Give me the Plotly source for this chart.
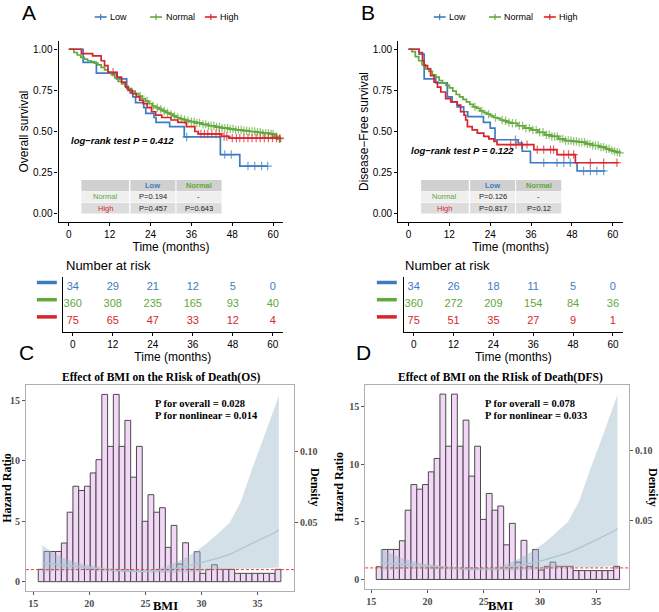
import plotly.graph_objects as go

W, H = 659, 612
SANS = "Liberation Sans"
SERIF = "Liberation Serif"
BLUE, GREEN, RED = "#3C7CC3", "#62A83B", "#D8252B"
GROUPS = ["Low", "Normal", "High"]
COLORS = [BLUE, GREEN, RED]

def dom_x(a, b):
    return [a / W, b / W]

def dom_y(top, bottom):
    return [1 - bottom / H, 1 - top / H]

def fx(p):
    return p / W

def fy(p):
    return 1 - p / H

# ---------------- Panel A: overall survival (KM) ----------------
a_low_t = [0, 4.2, 8.1, 14.0, 17.0, 18.0, 18.8, 19.6, 22.0, 22.6, 25.0, 25.6, 29.6, 33.9, 44.5, 50.2]
a_low_s = [1.0, 0.92, 0.855, 0.82, 0.76, 0.735, 0.71, 0.675, 0.645, 0.61, 0.585, 0.555, 0.53, 0.467, 0.36, 0.29]
a_low_cens = [34.6, 45.8, 47.7, 52.6, 54.6, 56.6, 58.4]
a_low_end = 58.4

a_norm_t = [0, 1.5, 2.5, 3.5, 4.5, 5.5, 6.5, 7.5, 8.5, 9.5, 10.5, 11.5, 12.5, 13.5, 14.5, 15.5, 16.5,
            17.5, 18.5, 19.5, 20.5, 21.5, 22.5, 23.5, 24.5, 25.5, 26.5, 27.5, 28.5, 29.5, 30.5, 31.5,
            32.5, 33.5, 34.5, 35.5, 37, 39, 41, 43, 45, 47, 49, 51, 53, 55, 57, 59, 60.5, 61.3, 62]
a_norm_s = [1.0, 0.98, 0.965, 0.95, 0.94, 0.93, 0.925, 0.915, 0.905, 0.89, 0.875, 0.86, 0.845, 0.825,
            0.805, 0.79, 0.775, 0.76, 0.745, 0.73, 0.715, 0.70, 0.685, 0.67, 0.655, 0.645, 0.635, 0.625,
            0.615, 0.605, 0.595, 0.585, 0.578, 0.572, 0.566, 0.56, 0.552, 0.543, 0.535, 0.527, 0.52,
            0.515, 0.51, 0.505, 0.5, 0.495, 0.49, 0.485, 0.47, 0.455, 0.44]
a_norm_cens = [21, 23, 24.8, 26, 27, 28, 29, 30, 31, 32, 33, 34, 35, 36, 36.8, 37.6, 38.4, 39.4, 40.2,
               41, 41.8, 42.6, 43.4, 44.2, 45, 45.8, 46.6, 47.4, 48.2, 49, 49.8, 50.6, 51.4, 52.2, 53,
               53.8, 54.6, 55.4, 56.2, 57, 57.8, 58.6, 59.4, 60, 61, 61.8]
a_norm_end = 62.4

a_high_t = [0, 3.7, 7.0, 9.5, 10.5, 11.5, 14.2, 15.5, 16.7, 17.4, 18.6, 19.8, 20.8, 21.8, 23.0, 24.3,
            25.5, 27.3, 30.0, 32.0, 34.5, 37.0, 38.0, 44.8, 47.0]
a_high_s = [1.0, 0.973, 0.96, 0.93, 0.90, 0.86, 0.83, 0.80, 0.77, 0.75, 0.73, 0.71, 0.69, 0.67, 0.645,
            0.62, 0.60, 0.585, 0.57, 0.555, 0.53, 0.50, 0.485, 0.47, 0.46]
a_high_cens = [13.0, 38.8, 39.8, 40.8, 42.0, 43.2, 44.2, 45.6, 46.4, 48.0, 49.2, 50.2, 51.4, 52.6, 53.8,
               55.0, 56.2, 57.4, 58.6, 59.8, 61.0, 62.0]
a_high_end = 62.4

# ---------------- Panel B: disease-free survival (KM) ----------------
b_low_t = [0, 3.1, 4.6, 8.0, 11.4, 12.8, 14.3, 16.2, 17.4, 22.0, 24.0, 25.4, 32.2, 33.4, 35.8, 49.5]
b_low_s = [1.0, 0.97, 0.82, 0.795, 0.71, 0.68, 0.65, 0.62, 0.59, 0.555, 0.52, 0.45, 0.43, 0.38, 0.31, 0.26]
b_low_cens = [31.4, 39.7, 43.6, 45.6, 47.5, 51.4, 53.4, 55.3, 57.3]
b_low_end = 57.8

b_norm_t = [0, 1, 2, 3, 4, 5, 6, 7, 8, 9, 10, 11, 12, 13, 14, 15, 16, 17, 18, 19, 20, 21, 22, 23, 24,
            25, 26, 27, 28, 29, 30, 32, 34, 36, 38, 40, 42, 44, 46, 48, 50, 52, 54, 56, 58, 59, 60, 61, 62]
b_norm_s = [1.0, 0.985, 0.955, 0.93, 0.905, 0.88, 0.865, 0.845, 0.83, 0.81, 0.795, 0.78, 0.765, 0.745,
            0.725, 0.71, 0.695, 0.68, 0.665, 0.65, 0.64, 0.625, 0.615, 0.605, 0.595, 0.585, 0.58, 0.57,
            0.565, 0.555, 0.55, 0.535, 0.52, 0.51, 0.495, 0.48, 0.47, 0.455, 0.445, 0.44, 0.435, 0.425,
            0.415, 0.405, 0.395, 0.385, 0.38, 0.375, 0.37]
b_norm_cens = [19.5, 21.5, 23.5, 25.5, 27.5, 28.5, 29.5, 30.5, 31.5, 32.5, 33.5, 34.5, 35.5, 36.5, 37.5,
               38.5, 39.5, 40.5, 41.3, 42.1, 42.9, 43.7, 44.5, 45.3, 46.1, 46.9, 47.7, 48.5, 49.3, 50.1,
               50.9, 51.7, 52.5, 53.3, 54.1, 54.9, 55.7, 56.5, 57.3, 58.1, 58.9, 59.7, 60.5, 61.3, 62.0]
b_norm_end = 62.2

b_high_t = [0, 3.1, 4.1, 4.6, 5.6, 6.5, 7.5, 8.5, 9.5, 10.9, 12.4, 14.3, 15.3, 16.3, 16.8, 17.3, 18.7,
            20.2, 22.1, 23.6, 25.1, 26.0, 36.8, 43.6, 49.0]
b_high_s = [1.0, 0.98, 0.93, 0.90, 0.88, 0.84, 0.80, 0.77, 0.74, 0.70, 0.68, 0.66, 0.62, 0.60, 0.57,
            0.53, 0.51, 0.49, 0.47, 0.455, 0.44, 0.42, 0.39, 0.36, 0.31]
b_high_cens = [30.0, 31.6, 33.2, 34.8, 37.8, 39.7, 41.7, 42.6, 45.6, 47.0, 48.5, 53.4, 57.3, 61.2]
b_high_end = 61.7

# pairwise log-rank p-values
a_pval_text = "log\u2212rank test P = 0.412"
b_pval_text = "log\u2212rank test P = 0.122"
a_pair = [["P=0.194", "-"], ["P=0.457", "P=0.643"]]
b_pair = [["P=0.126", "-"], ["P=0.817", "P=0.12"]]

# ---------------- Number at risk ----------------
risk_times = [0, 12, 24, 36, 48, 60]
a_risk_low = [34, 29, 21, 12, 5, 0]
a_risk_norm = [360, 308, 235, 165, 93, 40]
a_risk_high = [75, 65, 47, 33, 12, 4]
b_risk_low = [34, 26, 18, 11, 5, 0]
b_risk_norm = [360, 272, 209, 154, 84, 36]
b_risk_high = [75, 51, 35, 27, 9, 1]

# ---------------- Panels C/D: BMI restricted cubic spline ----------------
bin_start = 15.45
bin_width = 0.515
hist_c = [1.02, 2.5, 2.5, 2.5, 3.2, 5.75, 7.9, 7.55, 7.9, 9.0, 10.1, 15.5, 11.2, 15.5, 11.2, 13.35,
          8.65, 11.2, 5.0, 7.2, 5.75, 6.12, 2.84, 4.66, 1.46, 3.22, 1.02, 2.48, 0.69, 1.02, 1.4, 1.02,
          1.02, 1.02, 0.69, 0.69, 0.69, 0.69, 0.69, 0.69, 0.69, 1.02]
hist_d = [1.1, 2.6, 2.6, 2.6, 3.35, 6.0, 8.22, 7.82, 8.22, 9.32, 10.48, 16.05, 11.54, 16.05, 11.54,
          13.8, 8.95, 11.54, 5.2, 7.45, 6.0, 6.36, 3.0, 4.86, 1.5, 3.39, 1.14, 2.6, 0.82, 1.14, 1.5,
          1.14, 1.14, 1.14, 0.77, 0.77, 0.77, 0.77, 0.77, 0.77, 0.77, 1.14]

bmi_curve = [15.8, 16.5, 17.5, 18.5, 19.5, 20.5, 21.5, 22.5, 23.5, 24.5, 25.5, 26.5, 27.5, 28.5,
             29.5, 30.5, 31.5, 32.5, 33.5, 34.5, 35.5, 36.5, 36.9]
hr_c = [1.55, 1.48, 1.38, 1.28, 1.18, 1.09, 1.01, 0.94, 0.89, 0.86, 0.87, 0.93, 1.05, 1.22, 1.45,
        1.68, 1.95, 2.25, 2.7, 3.15, 3.6, 4.05, 4.3]
hr_c_up = [3.0, 2.55, 2.05, 1.7, 1.45, 1.28, 1.15, 1.07, 1.02, 1.0, 1.02, 1.15, 1.5, 1.95, 2.5, 3.2,
           4.0, 4.85, 6.6, 9.3, 11.8, 14.3, 15.4]
hr_c_lo = [0.8, 0.86, 0.93, 0.96, 0.96, 0.93, 0.89, 0.83, 0.78, 0.74, 0.74, 0.75, 0.74, 0.76, 0.84,
           0.88, 0.95, 1.04, 1.1, 1.07, 1.1, 1.15, 1.2]
hr_d = [1.45, 1.4, 1.32, 1.23, 1.15, 1.07, 1.0, 0.95, 0.91, 0.89, 0.9, 0.96, 1.08, 1.25, 1.47, 1.72,
        1.98, 2.3, 2.72, 3.18, 3.65, 4.15, 4.4]
hr_d_up = [2.7, 2.35, 1.95, 1.65, 1.42, 1.26, 1.15, 1.07, 1.03, 1.01, 1.04, 1.17, 1.52, 1.98, 2.55,
           3.25, 4.1, 5.0, 6.8, 9.6, 12.2, 14.8, 16.0]
hr_d_lo = [0.78, 0.83, 0.89, 0.92, 0.93, 0.91, 0.87, 0.84, 0.8, 0.78, 0.78, 0.79, 0.77, 0.79, 0.85,
           0.91, 0.96, 1.06, 1.09, 1.05, 1.09, 1.16, 1.21]
c_title = "Effect of BMI on the RIisk of Death(OS)"
d_title = "Effect of BMI on the RIisk of Death(DFS)"
c_ptext = ["P for overall = 0.028", "P for nonlinear = 0.014"]
d_ptext = ["P for overall = 0.078", "P for nonlinear = 0.033"]

# ===================================================================
fig = go.Figure()


def km_points(times, surv, cens, end):
    def s_at(t):
        return surv[max(i for i, tt in enumerate(times) if tt <= t)]
    pts = [(t, s, 0) for t, s in zip(times, surv)]
    pts += [(c, s_at(c), 1) for c in cens]
    pts.append((end, s_at(end), 0))
    pts.sort(key=lambda p: (p[0], p[2]))
    return [p[0] for p in pts], [p[1] for p in pts], [6 if p[2] else 0 for p in pts]


km_sets = [
    ("x", "y", [(a_low_t, a_low_s, a_low_cens, a_low_end),
                (a_norm_t, a_norm_s, a_norm_cens, a_norm_end),
                (a_high_t, a_high_s, a_high_cens, a_high_end)]),
    ("x2", "y2", [(b_low_t, b_low_s, b_low_cens, b_low_end),
                  (b_norm_t, b_norm_s, b_norm_cens, b_norm_end),
                  (b_high_t, b_high_s, b_high_cens, b_high_end)]),
]
for xa, ya, sets in km_sets:
    for (t, s, c, e), name, col in zip(sets, GROUPS, COLORS):
        x, y, sz = km_points(t, s, c, e)
        fig.add_trace(go.Scatter(
            x=x, y=y, mode="lines+markers", name=name, showlegend=False,
            line=dict(color=col, width=1.7, shape="hv"),
            marker=dict(symbol="cross-thin", size=sz, color=col, line=dict(color=col, width=1.2)),
            xaxis=xa, yaxis=ya, hoverinfo="skip", cliponaxis=False))

# risk tables
risk_sets = [("x3", "y3", [a_risk_low, a_risk_norm, a_risk_high]),
             ("x4", "y4", [b_risk_low, b_risk_norm, b_risk_high])]
for xa, ya, rows in risk_sets:
    for k, (vals, col) in enumerate(zip(rows, COLORS)):
        fig.add_trace(go.Scatter(
            x=risk_times, y=[3 - k] * len(risk_times), mode="text",
            text=[str(v) for v in vals], textfont=dict(family=SANS, size=11, color=col),
            xaxis=xa, yaxis=ya, showlegend=False, hoverinfo="skip", cliponaxis=False))

# BMI panels
bin_centers = [bin_start + bin_width * (i + 0.5) for i in range(len(hist_c))]
bmi_sets = [("x5", "y5", "y6", hist_c, hr_c, hr_c_up, hr_c_lo),
            ("x7", "y7", "y8", hist_d, hr_d, hr_d_up, hr_d_lo)]
for xa, ya, ya2, hist, hr, up, lo in bmi_sets:
    fig.add_trace(go.Bar(
        x=bin_centers, y=hist, width=bin_width, xaxis=xa, yaxis=ya,
        marker=dict(color="#F2D7F7", line=dict(color="#4A4A4A", width=1)),
        showlegend=False, hoverinfo="skip"))
    fig.add_trace(go.Scatter(
        x=bmi_curve + bmi_curve[::-1], y=up + lo[::-1], fill="toself", mode="lines",
        line=dict(width=0), fillcolor="rgba(150,180,200,0.42)",
        xaxis=xa, yaxis=ya, showlegend=False, hoverinfo="skip"))
    fig.add_trace(go.Scatter(
        x=bmi_curve, y=hr, mode="lines", line=dict(color="#A9C6D3", width=1.3),
        xaxis=xa, yaxis=ya, showlegend=False, hoverinfo="skip"))
    # empty trace so that the secondary (density) axis is drawn
    fig.add_trace(go.Scatter(x=[None], y=[None], mode="lines", xaxis=xa, yaxis=ya2,
                             showlegend=False, hoverinfo="skip"))

# ------------------------------------------------------------------- layout
km_x = dict(range=[-3, 63], tickvals=risk_times, ticks="outside", ticklen=3, tickwidth=1,
            tickcolor="black", showline=True, linecolor="black", linewidth=1.2, showgrid=False,
            zeroline=False, tickfont=dict(family=SANS, size=10, color="black"),
            title=dict(text="Time (months)", font=dict(family=SANS, size=12, color="black"), standoff=0))
km_y = dict(range=[-0.05, 1.05], tickvals=[0, 0.25, 0.5, 0.75, 1.0], tickformat=".2f",
            ticks="outside", ticklen=3, tickwidth=1, tickcolor="black", showline=True,
            linecolor="black", linewidth=1.2, showgrid=False, zeroline=False,
            tickfont=dict(family=SANS, size=10, color="black"))
risk_y = dict(range=[0.4, 3.6], showticklabels=False, ticks="", showline=True, linecolor="black",
              linewidth=1.2, showgrid=False, zeroline=False, domain=dom_y(277, 332))

ser_tick = dict(family=SERIF, size=10, color="#4D4D4D", weight="bold")
box_ax = dict(ticks="outside", ticklen=3, tickwidth=1, tickcolor="#555555", showline=True,
              mirror=True, linecolor="#AFAFAF", linewidth=1, showgrid=False, zeroline=False,
              tickfont=ser_tick)
dens_ax = dict(side="right", ticks="outside", ticklen=3, tickwidth=1, tickcolor="#555555",
               showline=False, showgrid=False, zeroline=False, tickvals=[0.05, 0.10],
               tickformat=".2f", tickfont=ser_tick)

layout = dict(
    width=W, height=612, autosize=False, margin=dict(l=0, r=0, t=0, b=0),
    paper_bgcolor="white", plot_bgcolor="white", showlegend=False,
    xaxis=dict(domain=dom_x(56.75, 282.25), anchor="y", **km_x),
    yaxis=dict(domain=dom_y(41, 222), anchor="x", **km_y,
               title=dict(text="Overall survival", font=dict(family=SANS, size=12, color="black"), standoff=1)),
    xaxis2=dict(domain=dom_x(397.5, 622.95), anchor="y2", **km_x),
    yaxis2=dict(domain=dom_y(41, 222), anchor="x2", **km_y,
                title=dict(text="Disease\u2212Free survival", font=dict(family=SANS, size=12, color="black"), standoff=1)),
    xaxis3=dict(domain=dom_x(60.96, 281.7), anchor="y3", **km_x),
    yaxis3=dict(anchor="x3", **risk_y),
    xaxis4=dict(domain=dom_x(403, 622.8), anchor="y4", **km_x),
    yaxis4=dict(anchor="x4", **risk_y),
    xaxis5=dict(domain=dom_x(24, 293), anchor="y5", range=[14.35, 38.26], tickvals=[15, 20, 25, 30, 35],
                **box_ax),
    yaxis5=dict(domain=dom_y(385, 591.1), anchor="x5", range=[-0.78, 16.28], tickvals=[0, 5, 10, 15],
                title=dict(text="Hazard Ratio", font=dict(family=SERIF, size=12, color="black", weight="bold"), standoff=2),
                **box_ax),
    yaxis6=dict(overlaying="y5", anchor="x5", range=[(-0.78 + 0.94) / 117.4, (16.28 + 0.94) / 117.4], **dens_ax),
    xaxis7=dict(domain=dom_x(364.3, 629), anchor="y7", range=[14.47, 37.93], tickvals=[15, 20, 25, 30, 35],
                **box_ax),
    yaxis7=dict(domain=dom_y(384.9, 588.7), anchor="x7", range=[-0.8, 16.85], tickvals=[0, 5, 10, 15],
                title=dict(text="Hazard Ratio", font=dict(family=SERIF, size=12, color="black", weight="bold"), standoff=2),
                **box_ax),
    yaxis8=dict(overlaying="y7", anchor="x7", range=[(-0.8 + 0.91) / 121.2, (16.85 + 0.91) / 121.2], **dens_ax),
)
fig.update_layout(**layout)

ann = []
shapes = []

# panel letters
for txt, x, y in [("A", 27.5, 12.5), ("B", 366.7, 12.5), ("C", 25, 353), ("D", 362.5, 353)]:
    ann.append(dict(text=txt, x=fx(x), y=fy(y), xref="paper", yref="paper", showarrow=False,
                    xanchor="center", yanchor="middle", font=dict(family=SANS, size=21, color="black")))

# group keys above each survival plot (short line with a censor cross, then the label)
for starts in [(93, 148.5, 203.5), (433, 488.5, 543.5)]:
    for x0, name, col in zip(starts, GROUPS, COLORS):
        shapes.append(dict(type="line", xref="paper", yref="paper", x0=fx(x0), x1=fx(x0 + 12),
                           y0=fy(17), y1=fy(17), line=dict(color=col, width=1.6)))
        shapes.append(dict(type="line", xref="paper", yref="paper", x0=fx(x0 + 6), x1=fx(x0 + 6),
                           y0=fy(14), y1=fy(20), line=dict(color=col, width=1.2)))
        ann.append(dict(text=name, x=fx(x0 + 13.5), y=fy(17), xref="paper", yref="paper",
                        showarrow=False, xanchor="left", yanchor="middle",
                        font=dict(family=SANS, size=9, color="black")))

# log-rank texts
for xa, ya, txt, yv in [("x", "y", a_pval_text, 0.448), ("x2", "y2", b_pval_text, 0.382)]:
    ann.append(dict(text="<b><i>" + txt + "</i></b>", x=0, y=yv, xref=xa, yref=ya, showarrow=False,
                    xanchor="left", yanchor="middle", font=dict(family=SANS, size=9.5, color="black")))

# pairwise p-value tables
tab_cols = [(3.7, 17.7), (18.1, 31.3), (31.6, 44.85)]
tab_rows = [(0.137, 0.205), (0.071, 0.134), (0.002, 0.067)]
row_fill = ["#D0D0D0", "#EFEFEF", "#DCDCDC"]
for xa, ya, pair in [("x", "y", a_pair), ("x2", "y2", b_pair)]:
    cells = [["", "Low", "Normal"], ["Normal"] + pair[0], ["High"] + pair[1]]
    tcol = [["black", BLUE, GREEN], [GREEN, "#222222", "#222222"], [RED, "#222222", "#222222"]]
    for r, (y0, y1) in enumerate(tab_rows):
        for c, (x0, x1) in enumerate(tab_cols):
            shapes.append(dict(type="rect", xref=xa, yref=ya, x0=x0, x1=x1, y0=y0, y1=y1,
                               fillcolor=row_fill[r], line=dict(width=0), layer="below"))
            if cells[r][c]:
                t = cells[r][c]
                if r == 0:
                    t = "<b>" + t + "</b>"
                ann.append(dict(text=t, x=(x0 + x1) / 2, y=(y0 + y1) / 2, xref=xa, yref=ya,
                                showarrow=False, xanchor="center", yanchor="middle",
                                font=dict(family=SANS, size=7.5, color=tcol[r][c])))

# number-at-risk titles and colour keys
for x in [62, 402.7]:
    ann.append(dict(text="Number at risk", x=fx(x), y=fy(265), xref="paper", yref="paper",
                    showarrow=False, xanchor="left", yanchor="middle",
                    font=dict(family=SANS, size=13, color="black")))
for (x0, x1), ya in [((35, 55), "y3"), ((376, 396), "y4")]:
    for k, col in enumerate(COLORS):
        shapes.append(dict(type="line", xref="paper", yref=ya, x0=fx(x0), x1=fx(x1),
                           y0=3 - k + 0.28, y1=3 - k + 0.28, line=dict(color=col, width=3.5)))

# BMI panel titles, p texts, axis labels, reference lines
for title, cx, px_left, ptxt, xa, ya, dens_x, bmi_x in [
        (c_title, 160, 151.7, c_ptext, "x5", "y5", 314, 164),
        (d_title, 499.7, 482.5, d_ptext, "x7", "y7", 653, 500)]:
    ann.append(dict(text=title, x=fx(cx), y=fy(377.7), xref="paper", yref="paper", showarrow=False,
                    xanchor="center", yanchor="middle",
                    font=dict(family=SERIF, size=11.5, color="black", weight="bold")))
    for k, line in enumerate(ptxt):
        ann.append(dict(text=line, x=fx(px_left), y=fy(403.5 + 11.5 * k), xref="paper", yref="paper",
                        showarrow=False, xanchor="left", yanchor="middle",
                        font=dict(family=SERIF, size=10.5, color="black", weight="bold")))
    ann.append(dict(text="Density", x=fx(dens_x), y=fy(487), xref="paper", yref="paper",
                    showarrow=False, textangle=90, xanchor="center", yanchor="middle",
                    font=dict(family=SERIF, size=12, color="black", weight="bold")))
    ann.append(dict(text="BMI", x=fx(bmi_x), y=fy(606), xref="paper", yref="paper",
                    showarrow=False, xanchor="center", yanchor="middle",
                    font=dict(family=SERIF, size=12.5, color="black", weight="bold")))
    shapes.append(dict(type="line", xref=xa + " domain", yref=ya, x0=0, x1=1, y0=1, y1=1,
                       line=dict(color="#E0403A", width=1, dash="3px,2px"), layer="above"))

fig.update_layout(annotations=ann, shapes=shapes)
fig.write_html("out.html")
